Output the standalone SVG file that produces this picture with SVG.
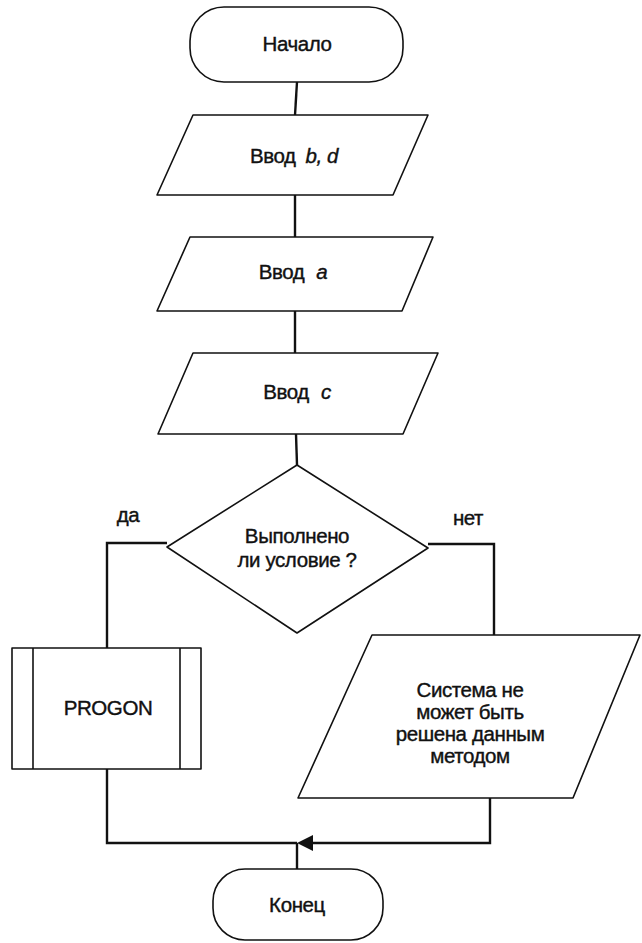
<svg xmlns="http://www.w3.org/2000/svg" width="642" height="943" viewBox="0 0 642 943">
<style>
.s{fill:#fff;stroke:#111;stroke-width:1.6;stroke-linejoin:round}
.c{fill:none;stroke:#111;stroke-width:2.4}
text{font-family:"Liberation Sans",Arial,sans-serif;font-size:20.5px;fill:#111;text-anchor:middle;stroke:#111;stroke-width:0.4;letter-spacing:-0.4px}
.i{font-style:italic}
</style>
<rect width="642" height="943" fill="#fff"/>
<g id="connectors">
<line class="c" x1="297" y1="82" x2="295" y2="115"/>
<line class="c" x1="295" y1="195" x2="295" y2="237"/>
<line class="c" x1="295" y1="311" x2="295" y2="353"/>
<line class="c" x1="296" y1="434" x2="297" y2="465"/>
<polyline class="c" points="167,543 107,543 107,648"/>
<polyline class="c" points="428,544 494,544 494,635"/>
<polyline class="c" points="107,769 107,843 297,843"/>
<polyline class="c" points="490,798 490,843 310,843"/>
<line class="c" x1="297" y1="843" x2="297" y2="869"/>
<polygon points="297,843 313,835 313,851" fill="#111"/>
<text id="label-yes" x="128" y="522">да</text>
<text id="label-no" x="468" y="525">нет</text>
</g>
<g id="start">
<rect class="s" x="190" y="7" width="213" height="75" rx="34" ry="34"/>
<text x="297" y="51">Начало</text>
</g>
<g id="input-bd">
<polygon class="s" points="193,115 428,115 393,195 157,195"/>
<text x="294" y="163">Ввод<tspan class="i" dx="10">b, d</tspan></text>
</g>
<g id="input-a">
<polygon class="s" points="190,237 433,237 402,311 157,311"/>
<text x="293" y="279">Ввод<tspan class="i" dx="12">a</tspan></text>
</g>
<g id="input-c">
<polygon class="s" points="193,353 438,353 403,434 158,434"/>
<text x="297" y="399">Ввод<tspan class="i" dx="12">c</tspan></text>
</g>
<g id="decision">
<polygon class="s" points="297,465 428,548 297,633 167,547"/>
<text x="297" y="543">Выполнено</text>
<text x="297" y="567">ли условие ?</text>
</g>
<g id="progon">
<rect class="s" x="12" y="648" width="189" height="121"/>
<line class="s" x1="33" y1="648" x2="33" y2="769"/>
<line class="s" x1="180" y1="648" x2="180" y2="769"/>
<text x="108" y="715">PROGON</text>
</g>
<g id="message">
<polygon class="s" points="372,635 640,635 573,798 298,798"/>
<text x="470" y="697">Система не</text>
<text x="470" y="719">может быть</text>
<text x="470" y="741">решена данным</text>
<text x="470" y="763">методом</text>
</g>
<g id="end">
<rect class="s" x="213" y="869" width="170" height="71" rx="32" ry="32"/>
<text x="297" y="912">Конец</text>
</g>
</svg>
